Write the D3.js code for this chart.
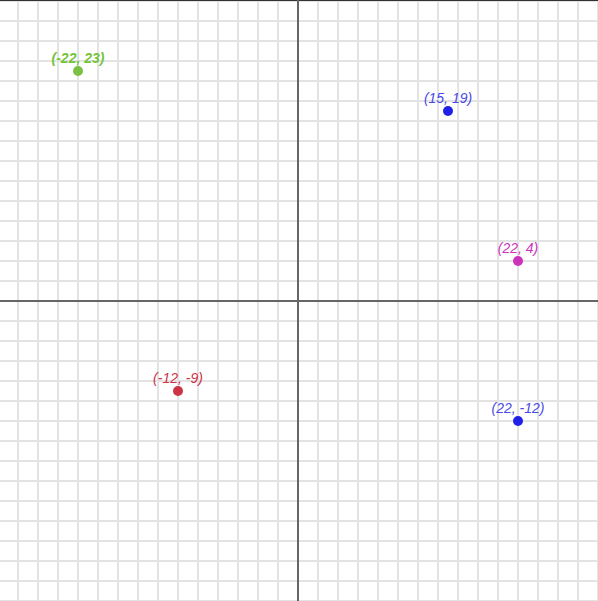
<!DOCTYPE html>
<html>
<head>
<meta charset="utf-8">
<script src="https://cdn.jsdelivr.net/npm/d3@7"></script>
<style>
html,body{margin:0;padding:0;background:#fff;}
svg{display:block;}
</style>
</head>
<body>
<svg id="chart" width="598" height="601"></svg>
<script>
const xValues = [-22, 15, 22, -12, 22];
const yValues = [23, 19, 4, -9, -12];
const pointColors = ["#7ac143", "#2020e8", "#cc33bb", "#cc3344", "#2020e8"];
const labelColors = ["#74c43a", "#4a4ae6", "#cc33bb", "#cc3344", "#4a4ae6"];
const labelWeights = ["bold", "normal", "normal", "normal", "normal"];
const gridStep = 2;

const W = 598, H = 601;
const ox = 298, oy = 301, unit = 10;
const x = d3.scaleLinear().domain([-ox / unit, (W - ox) / unit]).range([0, W]);
const y = d3.scaleLinear().domain([oy / unit, -(H - oy) / unit]).range([0, H]);

const svg = d3.select("#chart");

const xTicks = d3.range(-30, 31, gridStep).filter(v => v !== 0);
const yTicks = d3.range(-30, 31, gridStep).filter(v => v !== 0);

svg.append("g").selectAll("line").data(xTicks).join("line")
  .attr("x1", d => x(d)).attr("x2", d => x(d))
  .attr("y1", 0).attr("y2", H)
  .attr("stroke", "#e3e3e3").attr("stroke-width", 2);
svg.append("g").selectAll("line").data(yTicks).join("line")
  .attr("y1", d => y(d)).attr("y2", d => y(d))
  .attr("x1", 0).attr("x2", W)
  .attr("stroke", "#e3e3e3").attr("stroke-width", 2);

// top border
svg.append("line").attr("x1", 0).attr("x2", W).attr("y1", 0.5).attr("y2", 0.5)
  .attr("stroke", "#333").attr("stroke-width", 1);

// axes
svg.append("line").attr("x1", x(0)).attr("x2", x(0)).attr("y1", 0).attr("y2", H)
  .attr("stroke", "#666").attr("stroke-width", 2);
svg.append("line").attr("x1", 0).attr("x2", W).attr("y1", y(0)).attr("y2", y(0))
  .attr("stroke", "#666").attr("stroke-width", 2);

const pts = xValues.map((v, i) => ({x: v, y: yValues[i], c: pointColors[i], lc: labelColors[i], w: labelWeights[i]}));

const g = svg.append("g");
g.selectAll("circle").data(pts).join("circle")
  .attr("cx", d => x(d.x)).attr("cy", d => y(d.y)).attr("r", 5)
  .attr("fill", d => d.c);
g.selectAll("text").data(pts).join("text")
  .attr("x", d => x(d.x)).attr("y", d => y(d.y) - 8)
  .attr("text-anchor", "middle")
  .attr("font-family", "Liberation Sans, Arial, sans-serif")
  .attr("font-size", 14).attr("font-style", "italic")
  .attr("font-weight", d => d.w)
  .attr("fill", d => d.lc)
  .text(d => `(${d.x}, ${d.y})`);
</script>
</body>
</html>
